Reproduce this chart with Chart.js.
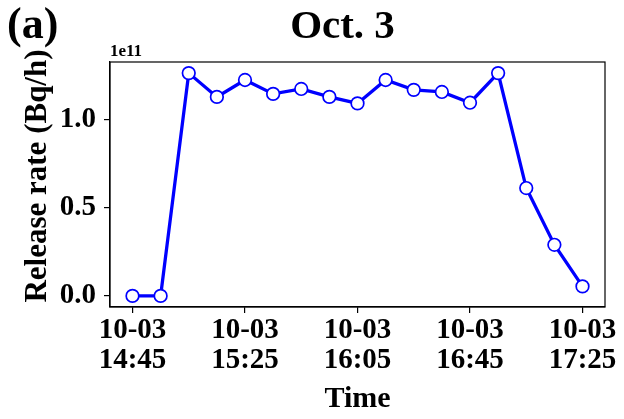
<!DOCTYPE html>
<html><head><meta charset="utf-8">
<script src="https://cdn.jsdelivr.net/npm/chart.js@4.4.0/dist/chart.umd.min.js"></script>
<style>html,body{margin:0;padding:0;background:#fff}#wrap{width:624px;height:419px}</style>
</head><body><div id="wrap"><canvas id="c" width="624" height="419"></canvas></div>
<script>
// minutes after 10-03 14:45
const minutes = [0,10,20,30,40,50,60,70,80,90,100,110,120,130,140,150,160];
const releaseRate = [0,0,1.264e11,1.129e11,1.225e11,1.146e11,1.174e11,1.129e11,1.092e11,1.225e11,1.169e11,1.157e11,1.096e11,1.264e11,0.612e11,0.29e11,0.054e11];
const xTickMinutes = [0,40,80,120,160];
const xTickLabels = [['10-03','14:45'],['10-03','15:25'],['10-03','16:05'],['10-03','16:45'],['10-03','17:25']];
const yTicks = [0,0.5e11,1.0e11];

const FONT = "'Liberation Serif','Times New Roman',serif";

const textPlugin = {
  id:'texts',
  afterDraw(chart){
    const {ctx, chartArea:a} = chart;
    ctx.save();
    ctx.strokeStyle='#000'; ctx.lineWidth=1.2;
    ctx.strokeRect(a.left, a.top, a.right-a.left, a.bottom-a.top);
    ctx.fillStyle='#000';
    const cx=(a.left+a.right)/2;
    ctx.textAlign='center'; ctx.textBaseline='middle';
    ctx.font="bold 41px "+FONT;
    ctx.fillText('Oct. 3', cx-15, 27);
    ctx.textAlign='left';
    ctx.font="bold 44px "+FONT;
    ctx.fillText('(a)', 7, 27);
    ctx.font="bold 17px "+FONT;
    ctx.textBaseline='alphabetic';
    ctx.fillText('1e11', a.left, a.top-6);
    ctx.textAlign='center'; ctx.textBaseline='middle';
    ctx.font="bold 30px "+FONT;
    ctx.fillText('Time', cx, 399);
    ctx.font="bold 31px "+FONT;
    ctx.translate(38, 176);
    ctx.rotate(-Math.PI/2);
    ctx.fillText('Release rate (Bq/h)', 0, 0);
    ctx.restore();
  }
};

new Chart(document.getElementById('c'), {
  type:'line',
  data:{ datasets:[{
    data: minutes.map((m,i)=>({x:m, y:releaseRate[i]})),
    borderColor:'#0000ff', borderWidth:3.3,
    pointRadius:6.3, pointBorderWidth:1.7,
    pointBackgroundColor:'#ffffff', pointBorderColor:'#0000ff',
    tension:0, fill:false
  }]},
  options:{
    responsive:false, animation:false,
    layout:{padding:{left:0,top:62,right:19,bottom:0}},
    plugins:{legend:{display:false}, tooltip:{enabled:false}},
    scales:{
      x:{type:'linear', min:-8, max:168,
        afterBuildTicks(s){ s.ticks = xTickMinutes.map(v=>({value:v})); },
        afterFit(s){ s.height = 112; },
        grid:{drawOnChartArea:false, drawTicks:true, tickLength:6, color:'#000', lineWidth:1.2},
        border:{display:true, color:'#000', width:1.2},
        ticks:{color:'#000', padding:3, maxRotation:0, autoSkip:false,
          font:{family:FONT, size:29, weight:'bold', lineHeight:1.03},
          callback:(v)=>{ const i=xTickMinutes.indexOf(v); return i>=0?xTickLabels[i]:''; }}
      },
      y:{min:-0.063e11, max:1.327e11,
        afterBuildTicks(s){ s.ticks = yTicks.map(v=>({value:v})); },
        afterFit(s){ s.width = 110; },
        grid:{drawOnChartArea:false, drawTicks:true, tickLength:6, color:'#000', lineWidth:1.2},
        border:{display:true, color:'#000', width:1.2},
        ticks:{color:'#000', padding:8,
          font:{family:FONT, size:29, weight:'bold'},
          callback:(v)=>(v/1e11).toFixed(1)}
      }
    }
  },
  plugins:[textPlugin]
});
</script></body></html>
